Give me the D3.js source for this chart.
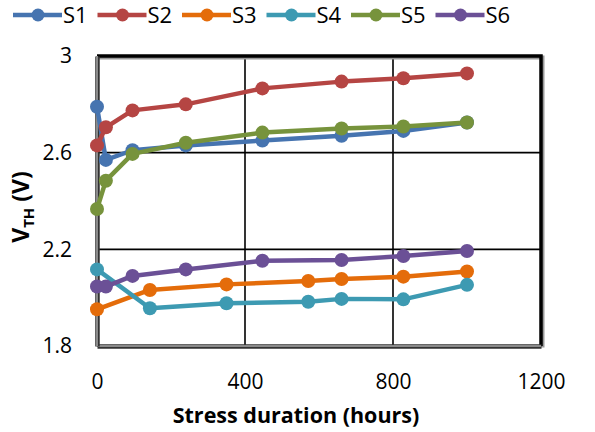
<!DOCTYPE html>
<html lang="en">
<head>
<meta charset="utf-8">
<title>VTH vs stress</title>
<script src="https://d3js.org/d3.v7.min.js"></script>
<style>
  body { margin: 0; background: #fff; }
  text { font-family: "Open Sans", sans-serif; fill: #000; }
  .title { font-weight: bold; }
</style>
</head>
<body>
<div id="main"></div>
<script>
var width = 595, height = 432;
var margin = {top: 56, right: 54, bottom: 86, left: 97};

// data
var names = ["S1", "S2", "S3", "S4", "S5", "S6"];
var colors = ["#4674B0", "#B54543", "#E46C0A", "#3D9AB2", "#77933C", "#6B5096"];
var hoursA = [0, 24, 96, 240, 447, 661, 828, 1000];
var hoursB = [0, 143, 350, 571, 661, 828, 1000];
var s1 = [2.79, 2.57, 2.61, 2.63, 2.65, 2.67, 2.69, 2.725];
var s2 = [2.63, 2.705, 2.775, 2.80, 2.866, 2.894, 2.908, 2.928];
var s3 = [1.952, 2.032, 2.055, 2.069, 2.077, 2.087, 2.108];
var s4 = [2.117, 1.956, 1.977, 1.983, 1.995, 1.993, 2.053];
var s5 = [2.367, 2.484, 2.595, 2.641, 2.683, 2.70, 2.708, 2.725];
var s6 = [2.046, 2.046, 2.09, 2.117, 2.153, 2.156, 2.172, 2.193];
var xTicks = [0, 400, 800, 1200];
var yTicks = [1.8, 2.2, 2.6, 3];

var series = [
  {name: "S1", x: hoursA, y: s1},
  {name: "S2", x: hoursA, y: s2},
  {name: "S3", x: hoursB, y: s3},
  {name: "S4", x: hoursB, y: s4},
  {name: "S5", x: hoursA, y: s5},
  {name: "S6", x: hoursA, y: s6}
];

var svg = d3.select("#main").append("svg")
  .attr("width", width).attr("height", height);

var x = d3.scaleLinear().domain([0, 1200]).range([margin.left, width - margin.right]);
var y = d3.scaleLinear().domain([1.8, 3]).range([height - margin.bottom, margin.top]);
var color = d3.scaleOrdinal().domain(names).range(colors);

// gridlines
svg.append("g").selectAll("line.gx")
  .data(xTicks.slice(1, -1)).enter().append("line")
  .attr("x1", d => x(d)).attr("x2", d => x(d))
  .attr("y1", y(3)).attr("y2", y(1.8))
  .attr("stroke", "#000").attr("stroke-width", 1.6);
svg.append("g").selectAll("line.gy")
  .data(yTicks.slice(1, -1)).enter().append("line")
  .attr("x1", x(0)).attr("x2", x(1200))
  .attr("y1", d => y(d)).attr("y2", d => y(d))
  .attr("stroke", "#000").attr("stroke-width", 1.6);

// top and right frame
svg.append("path")
  .attr("d", "M" + x(0) + "," + y(3) + "H" + x(1200) + "V" + y(1.8))
  .attr("fill", "none").attr("stroke", "#999").attr("stroke-width", 4)
  .attr("transform", "translate(1.5,1.5)");
svg.append("path")
  .attr("d", "M" + x(0) + "," + y(3) + "H" + x(1200) + "V" + y(1.8))
  .attr("fill", "none").attr("stroke", "#000").attr("stroke-width", 3.5);

// axes
var xAxis = svg.append("g")
  .attr("transform", "translate(0," + y(1.8) + ")")
  .call(d3.axisBottom(x).tickValues(xTicks).tickSize(0).tickPadding(28).tickFormat(d3.format("d")));
var yAxis = svg.append("g")
  .attr("transform", "translate(" + x(0) + ",0)")
  .call(d3.axisLeft(y).tickValues(yTicks).tickSize(0).tickPadding(25).tickFormat(d => d == 3 ? "3" : d3.format(".1f")(d)));
[xAxis, yAxis].forEach(function(a) {
  a.select(".domain").attr("stroke", "#333").attr("stroke-width", 4.5);
  a.selectAll(".tick text").attr("font-size", 21).attr("font-family", "Open Sans").attr("fill", "#000");
});
xAxis.append("path").attr("d", "M" + x(0) + ",0H" + x(1200))
  .attr("stroke", "#8a8a8a").attr("stroke-width", 2);
yAxis.append("path").attr("d", "M0," + y(3) + "V" + y(1.8))
  .attr("stroke", "#8a8a8a").attr("stroke-width", 2);

// lines and markers
var line = d3.line().x(d => x(d[0])).y(d => y(d[1]));
var g = svg.append("g");
series.forEach(function(s) {
  var pts = s.x.map((h, i) => [h, s.y[i]]);
  g.append("path").datum(pts)
    .attr("d", line).attr("fill", "none")
    .attr("stroke", color(s.name)).attr("stroke-width", 4.5)
    .attr("stroke-linejoin", "round");
  g.selectAll(null).data(pts).enter().append("circle")
    .attr("cx", d => x(d[0])).attr("cy", d => y(d[1]))
    .attr("r", 7).attr("fill", color(s.name));
});

// legend
var leg = svg.append("g").attr("transform", "translate(13,15)");
var item = leg.selectAll("g").data(names).enter().append("g")
  .attr("transform", (d, i) => "translate(" + (i * 84.5) + ",0)");
item.append("line").attr("x1", 0).attr("x2", 49)
  .attr("stroke", d => color(d)).attr("stroke-width", 4.5);
item.append("circle").attr("cx", 25).attr("r", 6.5).attr("fill", d => color(d));
item.append("text").attr("x", 50).attr("dy", "0.38em")
  .attr("font-size", 22).text(d => d);

// axis titles
svg.append("text").attr("class", "title")
  .attr("font-size", 21.5)
  .attr("x", 296).attr("y", 423).attr("text-anchor", "middle")
  .text("Stress duration (hours)");
var yt = svg.append("text").attr("class", "title")
  .attr("font-size", 23)
  .attr("transform", "translate(29,207) rotate(-90)")
  .attr("text-anchor", "middle");
yt.append("tspan").text("V");
yt.append("tspan").attr("font-size", 15).attr("dy", 5).text("TH");
yt.append("tspan").attr("dy", -5).text(" (V)");
</script>
</body>
</html>
